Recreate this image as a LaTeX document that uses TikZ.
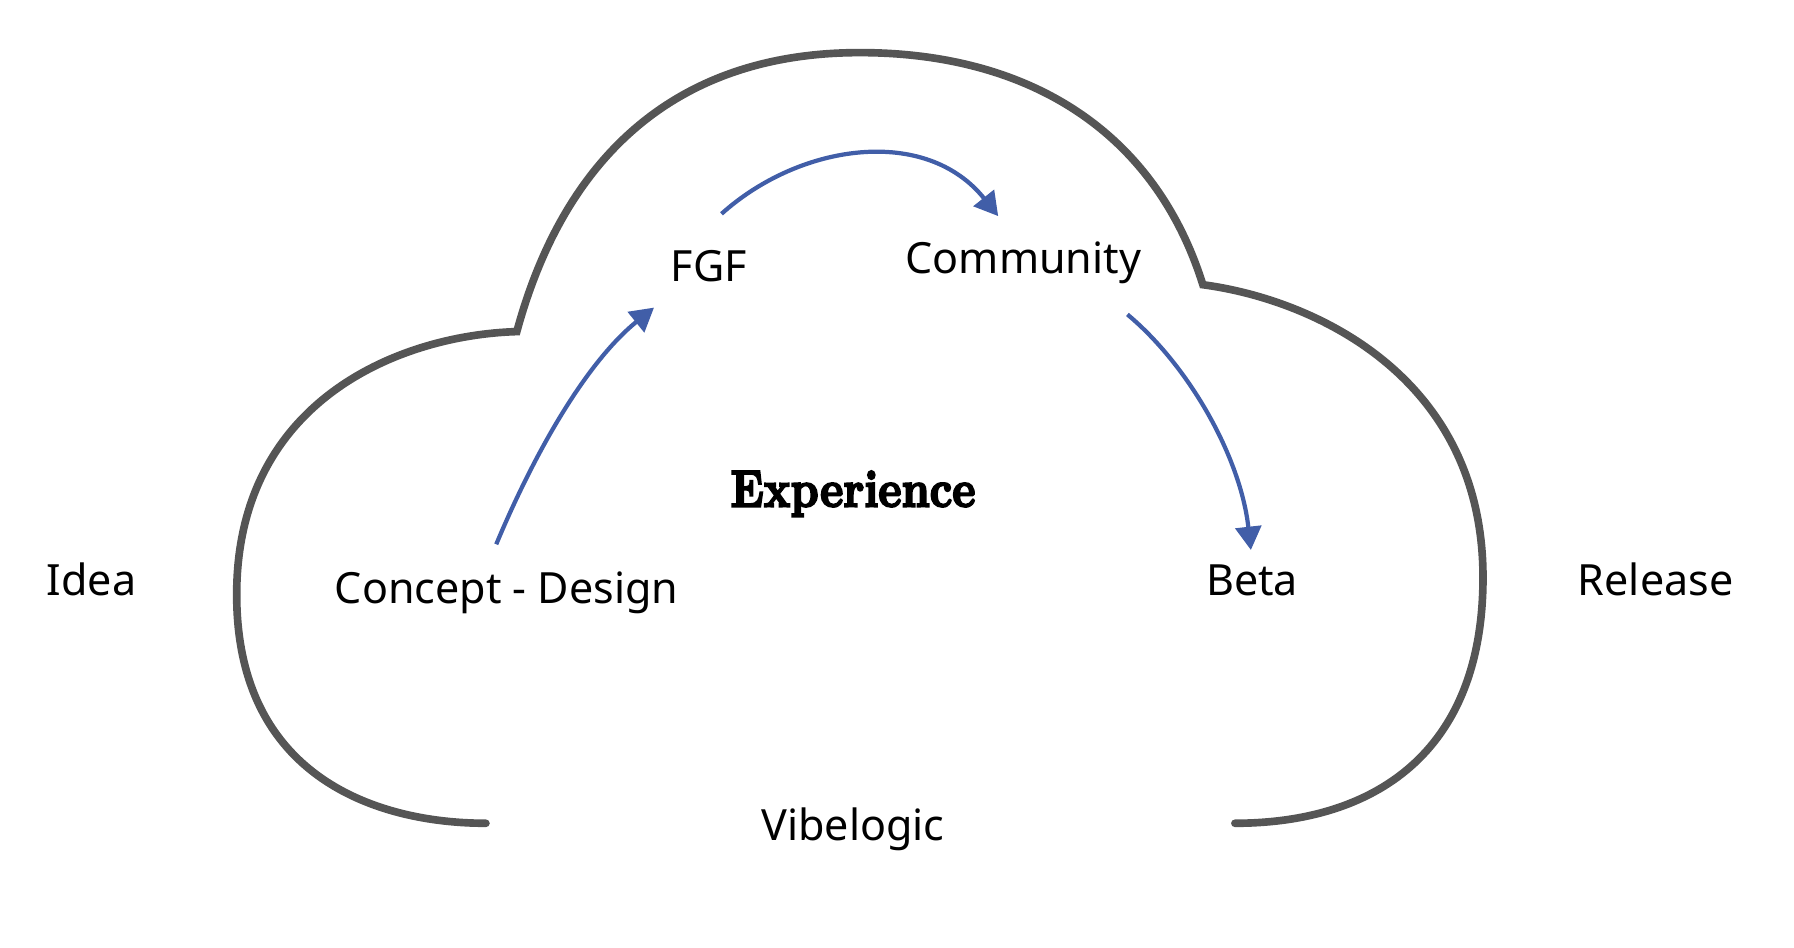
\documentclass[tikz,border=0pt]{standalone}
\usepackage{fontspec}
\setsansfont{Noto Sans}
\newfontfamily\expfont{lmroman10-bold.otf}[FakeBold=4]
\usetikzlibrary{arrows.meta}
\definecolor{cloudgray}{HTML}{555555}
\definecolor{arrowblue}{HTML}{415EA8}
\begin{document}
\begin{tikzpicture}[x=0.01cm, y=-0.01cm,
  lbl/.style={font=\sffamily\fontsize{10.7}{13}\selectfont, inner sep=0pt, anchor=base},
  cloudline/.style={draw=cloudgray, line width=1.9pt, line cap=round, line join=miter},
  flow/.style={draw=arrowblue, line width=1.05pt, -{Triangle[length=5.8pt,width=6.4pt]}}]
\useasboundingbox (0,0) rectangle (1569,829);
\draw[cloudline] (425,720) .. controls (330,720) and (207,680) .. (207,520)
  .. controls (207,350) and (350,293) .. (452,290)
  .. controls (490,150) and (580,46) .. (752,46)
  .. controls (900,46) and (1010,115) .. (1052,249)
  .. controls (1150,262) and (1297,330) .. (1297,505)
  .. controls (1297,660) and (1200,720) .. (1080,720);
\node[lbl] (idea) at (80,521) {Idea};
\node[lbl] (cd) at (443,528) {Concept - Design};
\node[lbl] (fgf) at (620,246) {FGF};
\node[lbl] (comm) at (895,239) {Community};
\node[lbl] (beta) at (1095,521) {Beta};
\node[lbl] (rel) at (1448,521) {Release};
\node[lbl] (vibe) at (746,735) {Vibelogic};
\node[inner sep=0pt, anchor=base] (exp) at (746,443) {\scalebox{0.85}[1]{\expfont\fontsize{12.9}{14}\selectfont Experience}};
\coordinate (cdout) at (434,476);
\coordinate (fgfin) at (572,269);
\coordinate (fgfout) at (631,187);
\coordinate (commin) at (873,189);
\coordinate (commout) at (986,275);
\coordinate (betain) at (1094,481);
\draw[flow] (cdout) .. controls (470,390) and (515,315) .. (fgfin);
\draw[flow] (fgfout) .. controls (700,125) and (810,110) .. (commin);
\draw[flow] (commout) .. controls (1040,320) and (1085,400) .. (betain);
\end{tikzpicture}
\end{document}
